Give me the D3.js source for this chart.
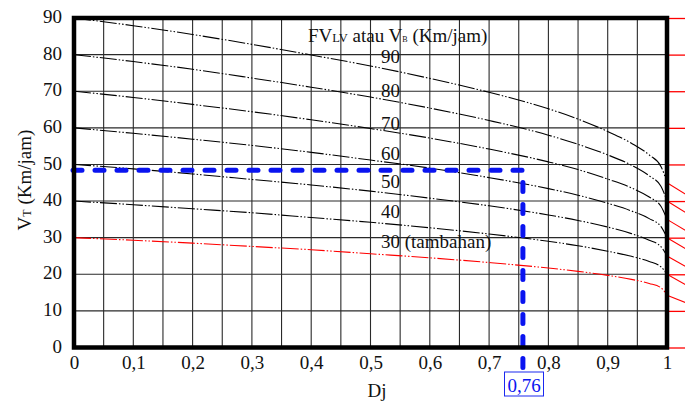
<!DOCTYPE html>
<html>
<head>
<meta charset="utf-8">
<script src="https://cdn.jsdelivr.net/npm/d3@7"></script>
<style>
  body { margin: 0; background: #fff; }
  svg { display: block; font-family: "Liberation Serif", "Times New Roman", serif; }
</style>
</head>
<body>
<svg id="chart" width="685" height="403"></svg>
<script>
// Data
let djPoints = [0, 0.1, 0.2, 0.3, 0.4, 0.5, 0.6, 0.7, 0.8, 0.85, 0.9, 0.94, 0.97, 0.99, 1.0]
let fvLabels = ['90', '80', '70', '60', '50', '40', '30 (tambahan)']
let vt90 = [90, 87.9, 85.5, 82.8, 79.9, 76.9, 73.5, 69.7, 65.2, 62.4, 59.0, 55.8, 52.6, 49.4, 45]
let vt80 = [80, 78.1, 76.0, 73.6, 71.1, 68.4, 65.4, 62.0, 58.0, 55.5, 52.6, 49.8, 46.9, 44.0, 40]
let vt70 = [70, 68.3, 66.4, 64.4, 62.2, 59.8, 57.2, 54.2, 50.7, 48.6, 46.0, 43.6, 41.1, 38.5, 35]
let vt60 = [60, 58.5, 56.9, 55.2, 53.3, 51.2, 49.0, 46.4, 43.4, 41.6, 39.4, 37.3, 35.2, 33.0, 30]
let vt50 = [50, 48.8, 47.4, 45.9, 44.4, 42.7, 40.8, 38.7, 36.2, 34.7, 32.9, 31.1, 29.3, 27.5, 25]
let vt40 = [40, 39.0, 37.9, 36.8, 35.5, 34.2, 32.7, 31.0, 29.0, 27.8, 26.3, 24.9, 23.5, 22.0, 20]
let vt30 = [30, 29.3, 28.5, 27.6, 26.7, 25.6, 24.5, 23.2, 21.7, 20.8, 19.7, 18.6, 17.5, 16.3, 14.3]
let tailDj = 1.035
let tailValues = [41.5, 36.5, 31.6, 26.6, 21.8, 16.8, 12.0]
let xTicks = [0, 0.1, 0.2, 0.3, 0.4, 0.5, 0.6, 0.7, 0.8, 0.9, 1]
let yTicks = [0, 10, 20, 30, 40, 50, 60, 70, 80, 90]
let readDj = 0.757
let readVt = 48.4
let readLabel = '0,76'

let curves = [vt90, vt80, vt70, vt60, vt50, vt40, vt30]

let svg = d3.select('#chart')

let x = d3.scaleLinear().domain([0, 1]).range([74, 667])
let y = d3.scaleLinear().domain([0, 90]).range([347.5, 18])

// grid
svg.append('g')
    .selectAll('line')
    .data(d3.range(1, 20).map(i => i * 0.05))
    .enter()
    .append('line')
    .attr('x1', d => x(d)).attr('x2', d => x(d))
    .attr('y1', y(90)).attr('y2', y(0))
    .attr('stroke', '#2a2a2a')
    .attr('stroke-width', 1.1)

svg.append('g')
    .selectAll('line')
    .data(yTicks.slice(1, -1))
    .enter()
    .append('line')
    .attr('x1', x(0)).attr('x2', x(1))
    .attr('y1', d => y(d)).attr('y2', d => y(d))
    .attr('stroke', '#2a2a2a')
    .attr('stroke-width', 1.1)

// red ticks sticking out on the right
svg.append('g')
    .attr('transform', `translate(${x(1)},0)`)
    .call(d3.axisRight(y).tickValues(yTicks).tickSize(20).tickFormat(''))
    .call(g => g.select('.domain').remove())
    .call(g => g.selectAll('line').attr('stroke', 'red').attr('stroke-width', 1.3))

let line = d3.line()
    .x(d => x(d[0]))
    .y(d => y(d[1]))
    .curve(d3.curveMonotoneX)

// red tails beyond Dj = 1
svg.append('g')
    .selectAll('path')
    .data(curves.map((c, i) => [[1, c[c.length - 1]], [tailDj, tailValues[i]]]))
    .enter()
    .append('path')
    .attr('d', d3.line().x(d => x(d[0])).y(d => y(d[1])))
    .attr('fill', 'none')
    .attr('stroke', 'red')
    .attr('stroke-width', 1.1)

// FV curves
svg.append('g')
    .selectAll('path')
    .data(curves)
    .enter()
    .append('path')
    .attr('d', c => line(c.map((v, i) => [djPoints[i], v])))
    .attr('fill', 'none')
    .attr('stroke', (c, i) => i == curves.length - 1 ? 'red' : 'black')
    .attr('stroke-width', 1.1)
    .attr('stroke-dasharray', '17,2,1.5,2,1.5,2')

// curve labels
let labelY = [63, 96.5, 130, 160, 188, 218, 248]
svg.append('g')
    .selectAll('text')
    .data(fvLabels)
    .enter()
    .append('text')
    .attr('x', 381)
    .attr('y', (d, i) => labelY[i])
    .attr('font-size', 19)
    .attr('fill', '#111')
    .text(d => d)

// title
let title = svg.append('text')
    .attr('x', 308).attr('y', 42)
    .attr('font-size', 19)
    .attr('fill', '#111')
title.append('tspan').text('FV')
title.append('tspan').attr('font-size', 12.5).text('LV')
title.append('tspan').text(' atau V')
title.append('tspan').attr('font-size', 8).text('B')
title.append('tspan').text(' (Km/jam)')

// reading line
svg.append('path')
    .attr('d', d3.line()([[x(0) - 1, y(readVt)], [x(readDj), y(readVt)], [x(readDj), 372]]))
    .attr('fill', 'none')
    .attr('stroke', '#0a14f0')
    .attr('stroke-width', 5)
    .attr('stroke-linecap', 'round')
    .attr('stroke-linejoin', 'round')
    .attr('stroke-dasharray', '9,13')

// frame
svg.append('rect')
    .attr('x', x(0)).attr('y', y(90))
    .attr('width', x(1) - x(0)).attr('height', y(0) - y(90))
    .attr('fill', 'none')
    .attr('stroke', 'black')
    .attr('stroke-width', 4.5)

// axes
svg.append('g')
    .attr('transform', `translate(${x(0)},0)`)
    .call(d3.axisLeft(y).tickValues(yTicks).tickSize(0).tickPadding(12))
    .attr('font-family', null)
    .attr('font-size', 19)
    .call(g => g.select('.domain').remove())
    .call(g => g.selectAll('text').attr('fill', '#111').attr('dy', '0.24em'))

svg.append('g')
    .attr('transform', `translate(0,${y(0)})`)
    .call(d3.axisBottom(x).tickValues(xTicks).tickSize(0).tickPadding(8.5)
        .tickFormat(d => d == 0 ? '0' : d == 1 ? '1' : d.toFixed(1).replace('.', ',')))
    .attr('font-family', null)
    .attr('font-size', 19)
    .call(g => g.select('.domain').remove())
    .call(g => g.selectAll('text').attr('fill', '#111'))

// axis titles
svg.append('text')
    .attr('x', 377).attr('y', 397)
    .attr('text-anchor', 'middle')
    .attr('font-size', 19)
    .attr('fill', '#111')
    .text('Dj')

let yTitle = svg.append('text')
    .attr('transform', 'translate(31,180) rotate(-90)')
    .attr('text-anchor', 'middle')
    .attr('font-size', 19)
    .attr('fill', '#111')
yTitle.append('tspan').text('V')
yTitle.append('tspan').attr('font-size', 12).text('T')
yTitle.append('tspan').text(' (Km/jam)')

// reading label box
svg.append('rect')
    .attr('x', 504.5).attr('y', 372)
    .attr('width', 39).attr('height', 24)
    .attr('fill', 'white')
    .attr('stroke', '#1a28f0')
    .attr('stroke-width', 1)
svg.append('text')
    .attr('x', 524).attr('y', 391.5)
    .attr('text-anchor', 'middle')
    .attr('font-size', 19)
    .attr('fill', '#0a14f0')
    .text(readLabel)
</script>
</body>
</html>
